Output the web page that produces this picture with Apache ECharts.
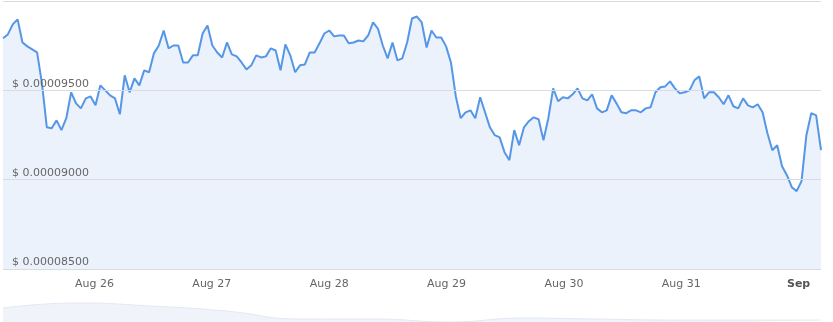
<!DOCTYPE html>
<html>
<head>
<meta charset="utf-8">
<script src="https://cdn.jsdelivr.net/npm/echarts@6/dist/echarts.min.js"></script>
<style>
html,body{margin:0;padding:0;background:#fff;}
#chart{width:833px;height:322px;}
</style>
</head>
<body>
<div id="chart"></div>
<script>
// ---- data ----
const seriesStart = [2024, 7, 25, 5, 17];   // local time of first sample (Aug 25, 05:17)
const stepMinutes = 59.75;                  // sampling step
const prices = [
0.00009791,0.00009813,0.00009869,0.00009897,0.00009768,0.00009746,0.00009729,0.00009712,0.00009539,0.00009293,
0.00009288,0.00009332,0.00009277,0.00009344,0.00009489,0.00009427,0.00009399,0.00009455,0.00009466,0.00009416,
0.00009528,0.00009500,0.00009472,0.00009455,0.00009366,0.00009584,0.00009489,0.00009567,0.00009528,0.00009612,
0.00009601,0.00009707,0.00009751,0.00009835,0.00009735,0.00009751,0.00009751,0.00009656,0.00009656,0.00009696,
0.00009696,0.00009818,0.00009863,0.00009751,0.00009712,0.00009684,0.00009768,0.00009701,0.00009690,0.00009656,
0.00009617,0.00009640,0.00009696,0.00009684,0.00009690,0.00009735,0.00009723,0.00009612,0.00009757,0.00009696,
0.00009601,0.00009640,0.00009645,0.00009712,0.00009712,0.00009763,0.00009818,0.00009835,0.00009802,0.00009807,
0.00009807,0.00009763,0.00009768,0.00009779,0.00009774,0.00009807,0.00009880,0.00009846,0.00009751,0.00009679,
0.00009768,0.00009668,0.00009679,0.00009768,0.00009902,0.00009913,0.00009880,0.00009740,0.00009835,0.00009796,
0.00009796,0.00009746,0.00009656,0.00009466,0.00009344,0.00009377,0.00009388,0.00009344,0.00009461,0.00009377,
0.00009293,0.00009249,0.00009237,0.00009154,0.00009109,0.00009277,0.00009193,0.00009293,0.00009327,0.00009349,
0.00009338,0.00009221,0.00009344,0.00009511,0.00009439,0.00009461,0.00009455,0.00009478,0.00009511,0.00009455,
0.00009444,0.00009478,0.00009399,0.00009377,0.00009388,0.00009472,0.00009427,0.00009377,0.00009372,0.00009388,
0.00009388,0.00009377,0.00009399,0.00009405,0.00009489,0.00009517,0.00009522,0.00009550,0.00009511,0.00009483,
0.00009489,0.00009500,0.00009556,0.00009578,0.00009455,0.00009489,0.00009489,0.00009461,0.00009422,0.00009472,
0.00009411,0.00009399,0.00009455,0.00009416,0.00009405,0.00009422,0.00009377,0.00009260,0.00009165,0.00009193,
0.00009075,0.00009025,0.00008958,0.00008936,0.00008992,0.00009249,0.00009372,0.00009360,0.00009165
];
const yTicks = [0.000085, 0.00009, 0.000095, 0.0001];
const monthNames = ['Jan','Feb','Mar','Apr','May','Jun','Jul','Aug','Sep','Oct','Nov','Dec'];
// faint navigator strip at the bottom
const navCategories = ['n0','n1','n2','n3','n4','n5','n6','n7','n8','n9','n10','n11'];
const navValues = [0.0000927,0.0000973,0.0000945,0.0000900,0.0000827,0.0000827,0.0000800,0.0000836,0.0000827,0.0000818,0.0000818,0.0000818];

// ---- build ----
const t0 = new Date(seriesStart[0], seriesStart[1], seriesStart[2], seriesStart[3], seriesStart[4]).getTime();
const stepMs = stepMinutes * 60000;
const lineData = prices.map((p, i) => [t0 + i * stepMs, p]);
const tEnd = t0 + (prices.length - 1) * stepMs;

const chart = echarts.init(document.getElementById('chart'), null, {renderer: 'canvas'});
chart.setOption({
  animation: false,
  backgroundColor: '#ffffff',
  textStyle: {fontFamily: 'DejaVu Sans'},
  grid: [
    {left: 3, right: 12, top: 1, bottom: 53, containLabel: false},
    {left: 3, right: 12, top: 300, height: 22, containLabel: false}
  ],
  xAxis: [{
    type: 'time',
    gridIndex: 0,
    min: t0,
    max: tEnd,
    minInterval: 86400000,
    maxInterval: 86400000,
    axisLine: {show: false},
    axisTick: {show: false},
    splitLine: {show: false},
    axisLabel: {
      color: '#666666',
      fontSize: 11,
      fontFamily: 'DejaVu Sans',
      margin: 10,
      hideOverlap: false,
      formatter: function (val) {
        const d = new Date(val);
        if (d.getDate() === 1) return '{b|' + monthNames[d.getMonth()] + '}';
        return monthNames[d.getMonth()] + ' ' + d.getDate();
      },
      rich: {b: {fontWeight: 'bold', color: '#555555', fontSize: 11, fontFamily: 'DejaVu Sans'}}
    }
  }, {
    type: 'category',
    gridIndex: 1,
    data: navCategories,
    boundaryGap: false,
    show: false
  }],
  yAxis: [{
    type: 'value',
    gridIndex: 0,
    z: 10,
    min: yTicks[0],
    max: yTicks[yTicks.length - 1],
    interval: yTicks[1] - yTicks[0],
    axisLine: {show: false},
    axisTick: {show: false},
    splitLine: {show: true, lineStyle: {color: '#d8dbe2', width: 1}},
    axisLabel: {
      inside: true,
      margin: 9,
      showMaxLabel: false,
      verticalAlign: 'bottom',
      padding: [0, 0, 1, 0],
      color: '#666666',
      fontSize: 11,
      fontFamily: 'DejaVu Sans',
      formatter: function (v) { return '$ ' + v.toFixed(8); }
    }
  }, {
    type: 'value',
    gridIndex: 1,
    min: 0.00008,
    max: 0.0001,
    show: false,
    splitLine: {show: false}
  }],
  series: [{
    type: 'line',
    xAxisIndex: 0,
    yAxisIndex: 0,
    data: lineData,
    showSymbol: false,
    symbol: 'none',
    smooth: false,
    lineStyle: {color: '#5596e6', width: 2},
    areaStyle: {color: '#ebf2fc', origin: 'start', opacity: 1},
    z: 3
  }, {
    type: 'line',
    xAxisIndex: 1,
    yAxisIndex: 1,
    data: navValues,
    showSymbol: false,
    symbol: 'none',
    smooth: true,
    lineStyle: {color: '#e2e8f2', width: 1},
    areaStyle: {color: '#f0f3f9', origin: 'start', opacity: 1}
  }]
});
</script>
</body>
</html>
